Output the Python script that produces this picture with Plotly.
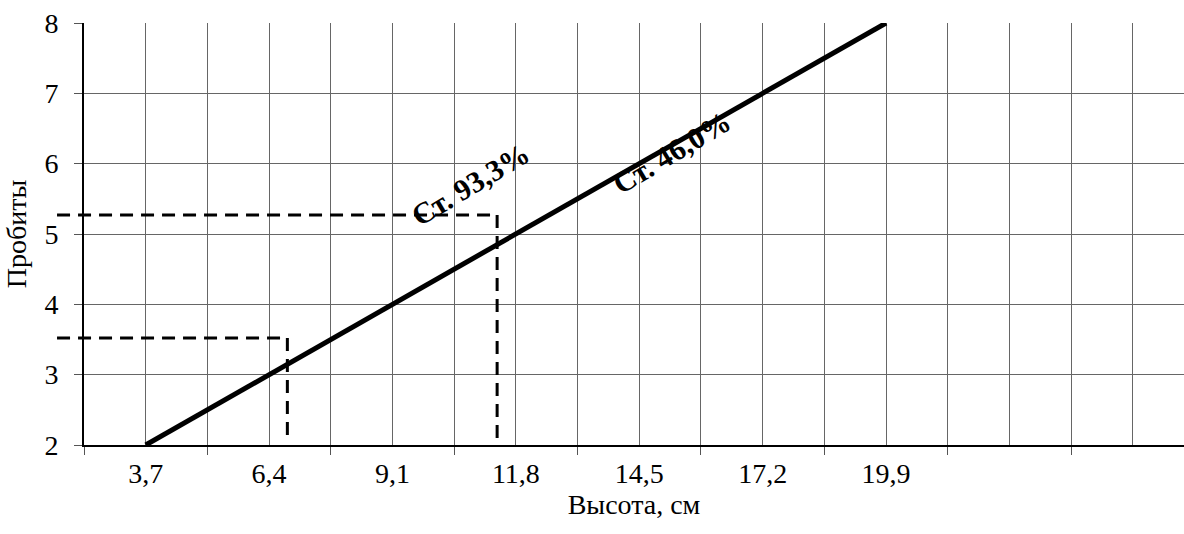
import plotly.graph_objects as go

# ---- data ----
x_line = [3.7, 19.9]
y_line = [2, 8]
tick_centers = [3.7, 6.4, 9.1, 11.8, 14.5, 17.2, 19.9, 22.6, 25.3]
tick_text = ["3,7", "6,4", "9,1", "11,8", "14,5", "17,2", "19,9", "", ""]
tick_bounds = [2.35, 5.05, 7.75, 10.45, 13.15, 15.85, 18.55, 21.25, 23.95]
guide_level = [3.52, 5.27]
guide_x = [6.8, 11.39]
guide_h_end = [6.64, 11.41]
guide_h_start = 1.76
guide_bottom = 2.1
labels = ["Ст. 93,3%", "Ст. 46,0%"]
label_x = [10.8, 15.2]
label_y = [5.7, 6.16]

XR = [2.35, 26.42]
YR = [2, 8]
FONT = "Liberation Serif, Times New Roman, serif"
GRID = "#666666"


def px(x):
    return (x - XR[0]) / (XR[1] - XR[0])


def py(y):
    return (y - YR[0]) / (YR[1] - YR[0])


fig = go.Figure()
fig.add_trace(go.Scatter(x=x_line, y=y_line, mode="lines",
                         line=dict(color="black", width=5),
                         showlegend=False, hoverinfo="skip", cliponaxis=False))

dash = dict(color="black", width=3, dash="13px,8px")
shapes = []
for lvl, gx, hend in zip(guide_level, guide_x, guide_h_end):
    shapes.append(dict(type="line", xref="paper", yref="paper",
                       x0=px(guide_h_start), x1=px(hend), y0=py(lvl), y1=py(lvl), line=dash))
    shapes.append(dict(type="line", xref="paper", yref="paper",
                       x0=px(gx), x1=px(gx), y0=py(lvl), y1=py(guide_bottom), line=dash))

annotations = []
for t, ax_, ay_ in zip(labels, label_x, label_y):
    annotations.append(dict(x=ax_, y=ay_, xref="x", yref="y", text="<b>" + t + "</b>",
                            showarrow=False, textangle=-31,
                            font=dict(family=FONT, size=30, color="black")))

fig.update_layout(
    width=1184, height=534,
    margin=dict(l=84, r=0, t=23, b=89),
    paper_bgcolor="white", plot_bgcolor="white",
    font=dict(family=FONT, color="black"),
    shapes=shapes, annotations=annotations,
    xaxis=dict(range=XR, tickmode="array", tickvals=tick_centers, ticktext=tick_text,
               ticks="", showgrid=True, gridcolor=GRID, gridwidth=1,
               minor=dict(tickmode="array", tickvals=tick_bounds, ticks="outside",
                          ticklen=8, tickcolor="#555", tickwidth=1,
                          showgrid=True, gridcolor=GRID, gridwidth=1),
               showline=True, linecolor="black", linewidth=2, zeroline=False,
               tickfont=dict(family=FONT, size=28), ticklabelstandoff=2,
               title=dict(text="Высота, см", font=dict(family=FONT, size=28), standoff=4)),
    yaxis=dict(range=YR, tickmode="linear", tick0=2, dtick=1, ticks="outside",
               ticklen=8, tickcolor="#555", showgrid=True, gridcolor=GRID, gridwidth=1,
               showline=True, linecolor="black", linewidth=2, zeroline=False,
               tickfont=dict(family=FONT, size=28), ticklabelstandoff=10,
               title=dict(text="Пробиты", font=dict(family=FONT, size=28), standoff=10)),
)

fig.write_html("out.html")
